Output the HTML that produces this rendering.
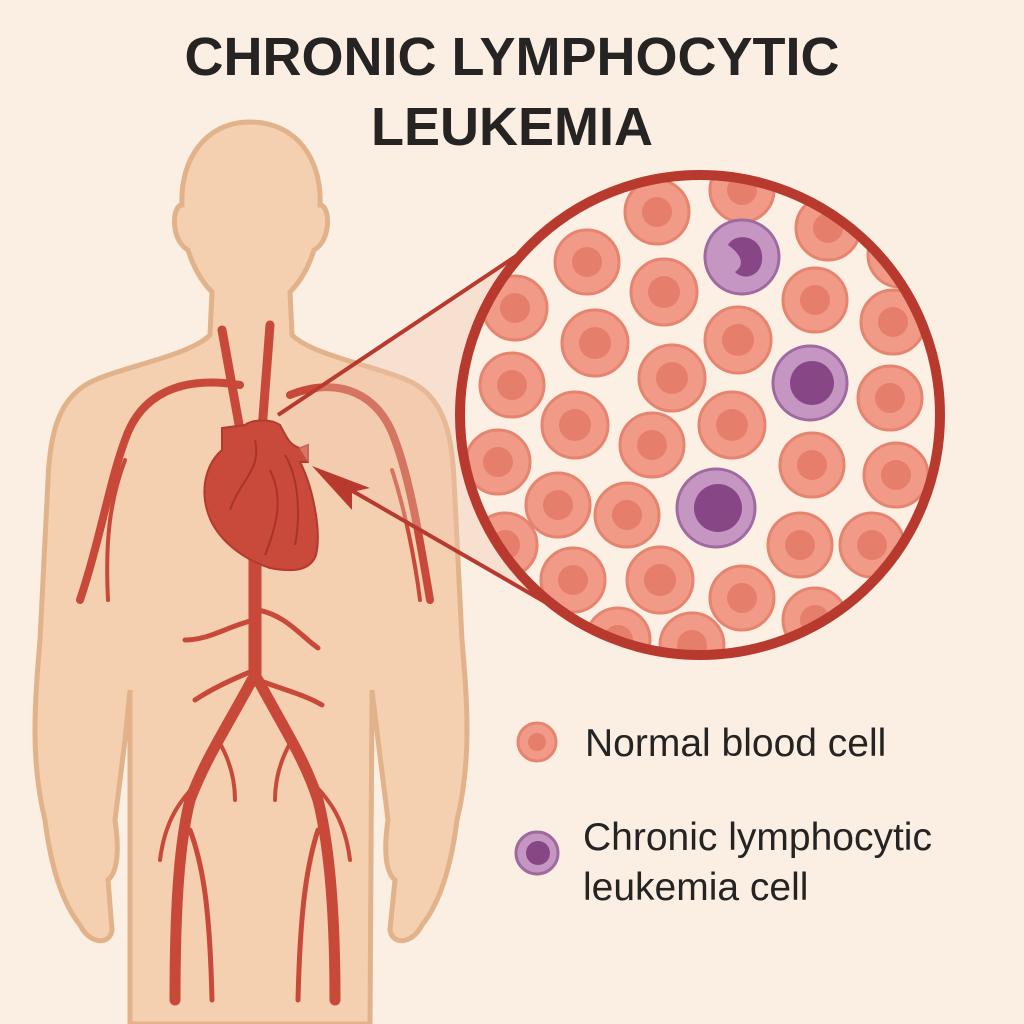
<!DOCTYPE html>
<html><head><style>
html,body{margin:0;padding:0;background:#fbeee2;}
svg{display:block}
</style></head><body>
<svg width="1024" height="1024" viewBox="0 0 1024 1024" xmlns="http://www.w3.org/2000/svg">
<defs>
<clipPath id="cc"><circle cx="700" cy="415" r="240"/></clipPath>
</defs>
<rect width="1024" height="1024" fill="#fbeee2"/>
<text x="512" y="75" text-anchor="middle" font-family="Liberation Sans, sans-serif" font-weight="bold" font-size="54" fill="#252422">CHRONIC LYMPHOCYTIC</text>
<text x="512" y="145" text-anchor="middle" font-family="Liberation Sans, sans-serif" font-weight="bold" font-size="54" fill="#252422">LEUKEMIA</text>

<!-- body -->
<path d="M250,122 C205,122 180,160 182,205 C172,205 170,240 188,250 C195,272 205,285 212,292 L210,335 C190,355 130,365 95,380 C60,395 50,430 48,480 L40,640 C35,700 30,760 45,820 C50,860 60,900 80,925 C90,945 110,945 112,930 L108,880 C120,870 118,840 115,820 L125,740 L130,690 L130,1024 L370,1024 L372,690 L378,740 L388,820 C385,840 383,870 395,880 L390,930 C392,945 412,945 422,925 C442,900 452,860 457,820 C472,760 467,700 462,640 L454,480 C452,430 442,395 407,380 C372,365 312,355 292,335 L290,292 C297,285 307,272 314,250 C332,240 330,205 320,205 C322,160 297,122 250,122 Z" fill="#f4d0b0" stroke="#e2b38a" stroke-width="5"/>

<!-- arteries -->
<g fill="none" stroke="#c8493a" stroke-linecap="round">
<path d="M222,330 L240,430" stroke-width="9"/>
<path d="M270,325 L262,430" stroke-width="9"/>
<path d="M240,385 C180,375 140,395 125,440 C110,480 100,540 80,600" stroke-width="8"/>
<path d="M125,460 C110,500 105,540 108,600" stroke-width="4"/>
<path d="M290,395 C340,375 380,395 395,440 C410,480 420,540 430,600" stroke-width="8"/>
<path d="M392,470 C405,510 415,560 420,600" stroke-width="4"/>
<path d="M255,560 L255,680" stroke-width="13"/>
<path d="M255,620 C230,625 210,640 185,640" stroke-width="5"/>
<path d="M258,610 C285,615 300,635 318,648" stroke-width="5"/>
<path d="M255,670 C230,680 210,690 195,700" stroke-width="5"/>
<path d="M258,680 C285,690 305,695 322,705" stroke-width="5"/>
<path d="M252,680 C225,730 205,760 190,800 C180,840 175,900 175,1000" stroke-width="11"/>
<path d="M258,680 C285,730 305,760 318,800 C328,840 335,900 335,1000" stroke-width="11"/>
<path d="M200,780 C180,800 165,820 160,860" stroke-width="4"/>
<path d="M310,780 C330,800 345,820 350,860" stroke-width="4"/>
<path d="M190,830 C205,870 210,920 212,1000" stroke-width="5"/>
<path d="M318,830 C305,870 300,920 298,1000" stroke-width="5"/>
<path d="M218,740 C230,760 235,780 235,800" stroke-width="4"/>
<path d="M292,740 C280,760 275,780 275,800" stroke-width="4"/>
</g>
<!-- heart -->
<path d="M222,428 L245,425 C250,420 270,418 280,425 C288,440 290,445 300,448 L308,445 L308,462 L300,462 C312,485 322,530 316,555 C310,572 290,572 270,568 C245,560 215,540 207,510 C200,485 208,462 222,450 Z" fill="#c9493a" stroke="#b33a2e" stroke-width="2"/>
<path d="M255,440 C262,470 240,480 230,510 M270,470 C285,500 275,530 265,555 M285,455 C300,480 300,520 295,545" stroke="#a8352a" stroke-width="2" fill="none"/>

<!-- connector lines -->
<polygon points="278,415 550,235 545,600 312,468" fill="#f0c6b0" opacity="0.35"/>
<line x1="278" y1="415" x2="552" y2="232" stroke="#b83a2f" stroke-width="4"/>
<line x1="330" y1="478" x2="545" y2="602" stroke="#b83a2f" stroke-width="4"/>
<polygon points="312,466 370,488 352,492 352,510" fill="#b83a2f"/>

<!-- zoom circle -->
<circle cx="700" cy="415" r="240" fill="#fcefe3"/>
<g clip-path="url(#cc)">
<g fill="#f29a88" stroke="#e5846f" stroke-width="3">
<circle cx="657" cy="212" r="32"/><circle cx="742" cy="190" r="32"/><circle cx="828" cy="228" r="32"/>
<circle cx="587" cy="262" r="32"/><circle cx="664" cy="292" r="33"/><circle cx="900" cy="255" r="32"/>
<circle cx="515" cy="308" r="32"/><circle cx="595" cy="343" r="33"/><circle cx="738" cy="340" r="33"/><circle cx="815" cy="300" r="32"/><circle cx="893" cy="322" r="32"/>
<circle cx="512" cy="385" r="32"/><circle cx="672" cy="378" r="33"/><circle cx="890" cy="398" r="32"/>
<circle cx="575" cy="425" r="33"/><circle cx="652" cy="445" r="32"/><circle cx="732" cy="425" r="33"/>
<circle cx="498" cy="462" r="32"/><circle cx="558" cy="505" r="32"/><circle cx="627" cy="515" r="32"/><circle cx="812" cy="465" r="32"/><circle cx="896" cy="475" r="32"/>
<circle cx="505" cy="545" r="32"/><circle cx="573" cy="580" r="32"/><circle cx="660" cy="580" r="33"/><circle cx="742" cy="598" r="32"/><circle cx="800" cy="545" r="32"/><circle cx="872" cy="545" r="32"/>
<circle cx="618" cy="640" r="32"/><circle cx="692" cy="645" r="32"/><circle cx="815" cy="620" r="32"/>
</g>
<g fill="#e57f6b">
<circle cx="657" cy="212" r="15"/><circle cx="742" cy="190" r="15"/><circle cx="828" cy="228" r="15"/>
<circle cx="587" cy="262" r="15"/><circle cx="664" cy="292" r="16"/><circle cx="900" cy="255" r="15"/>
<circle cx="515" cy="308" r="15"/><circle cx="595" cy="343" r="16"/><circle cx="738" cy="340" r="16"/><circle cx="815" cy="300" r="15"/><circle cx="893" cy="322" r="15"/>
<circle cx="512" cy="385" r="15"/><circle cx="672" cy="378" r="16"/><circle cx="890" cy="398" r="15"/>
<circle cx="575" cy="425" r="16"/><circle cx="652" cy="445" r="15"/><circle cx="732" cy="425" r="16"/>
<circle cx="498" cy="462" r="15"/><circle cx="558" cy="505" r="15"/><circle cx="627" cy="515" r="15"/><circle cx="812" cy="465" r="15"/><circle cx="896" cy="475" r="15"/>
<circle cx="505" cy="545" r="15"/><circle cx="573" cy="580" r="15"/><circle cx="660" cy="580" r="16"/><circle cx="742" cy="598" r="15"/><circle cx="800" cy="545" r="15"/><circle cx="872" cy="545" r="15"/>
<circle cx="618" cy="640" r="15"/><circle cx="692" cy="645" r="15"/><circle cx="815" cy="620" r="15"/>
</g>
<g fill="#c596c2" stroke="#9f6a9f" stroke-width="3">
<circle cx="742" cy="257" r="37"/><circle cx="810" cy="383" r="37"/><circle cx="716" cy="508" r="39"/>
</g>
<g fill="#874686">
<path d="M728,245 C735,232 760,235 762,255 C764,275 745,282 735,272 C745,265 742,255 728,245 Z"/>
<circle cx="812" cy="383" r="22"/><circle cx="718" cy="508" r="24"/>
</g>
</g>
<circle cx="700" cy="415" r="240" fill="none" stroke="#b83a2f" stroke-width="10"/>

<!-- legend -->
<circle cx="537" cy="742" r="19" fill="#f29a88" stroke="#e5846f" stroke-width="3"/>
<circle cx="537" cy="742" r="9" fill="#e57f6b"/>
<text x="585" y="756" font-family="Liberation Sans, sans-serif" font-size="39" fill="#252422">Normal blood cell</text>
<circle cx="537" cy="853" r="21" fill="#c596c2" stroke="#9f6a9f" stroke-width="3"/>
<circle cx="538" cy="853" r="12" fill="#874686"/>
<text x="583" y="850" font-family="Liberation Sans, sans-serif" font-size="39" fill="#252422">Chronic lymphocytic</text>
<text x="583" y="900" font-family="Liberation Sans, sans-serif" font-size="39" fill="#252422">leukemia cell</text>
</svg>
</body></html>
